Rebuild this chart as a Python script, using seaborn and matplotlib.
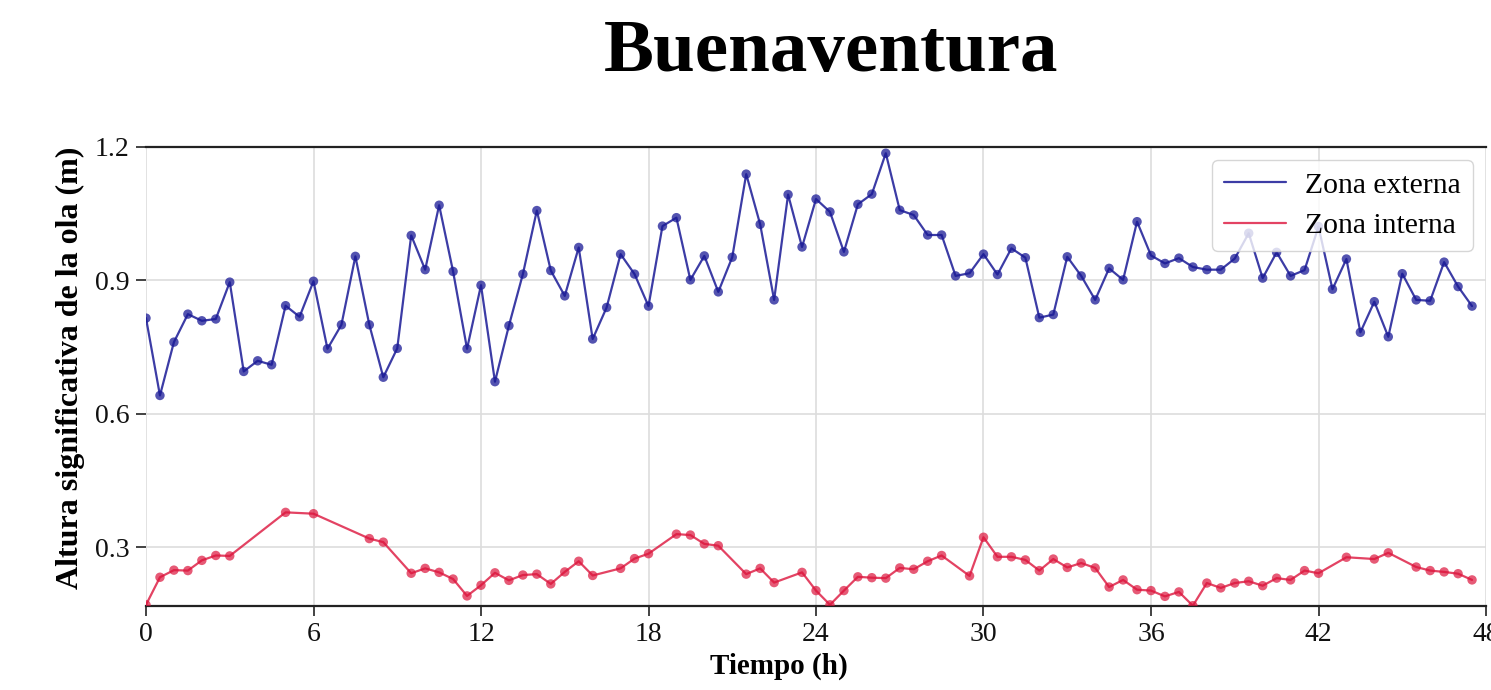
import numpy as np
import pandas as pd
import matplotlib
matplotlib.use("Agg")
import matplotlib.pyplot as plt
import seaborn as sns

# ---- data ----
ext_time = [i * 0.5 for i in range(96)]
ext_height = [
    0.815, 0.641, 0.761, 0.824, 0.809, 0.813, 0.896, 0.695, 0.719, 0.710,
    0.843, 0.818, 0.898, 0.746, 0.800, 0.954, 0.800, 0.682, 0.747, 1.001,
    0.924, 1.069, 0.920, 0.746, 0.889, 0.672, 0.798, 0.914, 1.057, 0.922,
    0.865, 0.974, 0.768, 0.839, 0.959, 0.914, 0.842, 1.022, 1.041, 0.901,
    0.955, 0.874, 0.952, 1.139, 1.026, 0.856, 1.093, 0.975, 1.083, 1.054,
    0.964, 1.071, 1.094, 1.186, 1.058, 1.047, 1.002, 1.002, 0.910, 0.916,
    0.959, 0.913, 0.972, 0.951, 0.816, 0.823, 0.953, 0.910, 0.856, 0.927,
    0.901, 1.032, 0.956, 0.938, 0.950, 0.930, 0.924, 0.924, 0.949, 1.006,
    0.905, 0.963, 0.910, 0.923, 1.021, 0.880, 0.948, 0.783, 0.852, 0.773,
    0.915, 0.856, 0.854, 0.941, 0.886, 0.842,
]

int_time = [
    0, 0.5, 1, 1.5, 2, 2.5, 3, 5, 6, 8, 8.5, 9.5, 10, 10.5, 11, 11.5, 12,
    12.5, 13, 13.5, 14, 14.5, 15, 15.5, 16, 17, 17.5, 18, 19, 19.5, 20, 20.5,
    21.5, 22, 22.5, 23.5, 24, 24.5, 25, 25.5, 26, 26.5, 27, 27.5, 28, 28.5,
    29.5, 30, 30.5, 31, 31.5, 32, 32.5, 33, 33.5, 34, 34.5, 35, 35.5, 36,
    36.5, 37, 37.5, 38, 38.5, 39, 39.5, 40, 40.5, 41, 41.5, 42, 43, 44, 44.5,
    45.5, 46, 46.5, 47, 47.5,
]
int_height = [
    0.170, 0.232, 0.248, 0.247, 0.270, 0.281, 0.280, 0.378, 0.375, 0.319,
    0.311, 0.241, 0.252, 0.243, 0.228, 0.190, 0.214, 0.242, 0.225, 0.237,
    0.239, 0.217, 0.244, 0.268, 0.236, 0.252, 0.274, 0.285, 0.329, 0.327,
    0.307, 0.303, 0.239, 0.252, 0.220, 0.243, 0.202, 0.170, 0.202, 0.233,
    0.231, 0.230, 0.253, 0.250, 0.268, 0.281, 0.235, 0.322, 0.278, 0.278,
    0.271, 0.247, 0.273, 0.254, 0.264, 0.253, 0.210, 0.226, 0.204, 0.202,
    0.189, 0.199, 0.168, 0.219, 0.208, 0.219, 0.223, 0.213, 0.230, 0.226,
    0.247, 0.241, 0.277, 0.273, 0.287, 0.255, 0.247, 0.244, 0.240, 0.226,
]

series_labels = ["Zona externa", "Zona interna"]
x_ticks = [0, 6, 12, 18, 24, 30, 36, 42, 48]
y_ticks = [0.3, 0.6, 0.9, 1.2]

ext_color = "#1a1a96"
int_color = "#dc143c"

# ---- style ----
sns.set_theme(style="whitegrid")
plt.rcParams["font.family"] = ["Liberation Serif", "DejaVu Serif"]
plt.rcParams["text.color"] = "black"
plt.rcParams["axes.labelcolor"] = "black"

fig = plt.figure(figsize=(14.91, 6.90), dpi=100)
ax = fig.add_axes([146 / 1491, 1 - 605.7 / 690, (1486 - 146) / 1491, (605.7 - 147) / 690])

df_ext = pd.DataFrame({"t": ext_time, "h": ext_height})
df_int = pd.DataFrame({"t": int_time, "h": int_height})

sns.lineplot(data=df_ext, x="t", y="h", ax=ax, color=ext_color, alpha=0.85,
             linewidth=1.6, label=series_labels[0])
sns.lineplot(data=df_int, x="t", y="h", ax=ax, color=int_color, alpha=0.8,
             linewidth=1.6, label=series_labels[1])
sns.scatterplot(data=df_ext, x="t", y="h", ax=ax, color=ext_color, alpha=0.75,
                s=46, edgecolor="none", legend=False, zorder=3)
sns.scatterplot(data=df_int, x="t", y="h", ax=ax, color=int_color, alpha=0.7,
                s=46, edgecolor="none", legend=False, zorder=3)

ax.set_xlim(0, 48)
ax.set_ylim(0.168, 1.2)
ax.set_xticks(x_ticks)
ax.set_yticks(y_ticks)
ax.set_xticklabels([str(v) for v in x_ticks])
ax.set_yticklabels([f"{v:.1f}" for v in y_ticks])

ax.grid(True, color="#dddddd", linewidth=1.2)
ax.set_facecolor("white")
for side in ["left", "right"]:
    ax.spines[side].set_visible(False)
for side in ["top", "bottom"]:
    ax.spines[side].set_visible(True)
    ax.spines[side].set_color("#222222")
    ax.spines[side].set_linewidth(1.6)

ax.tick_params(axis="both", which="major", labelsize=20, length=7, width=1.2,
               color="#222222", direction="out", pad=5, labelcolor="#111111")
ax.tick_params(axis="x", bottom=True)
ax.tick_params(axis="y", left=True)

ax.set_xlabel("")
ax.set_ylabel("")
fig.text(779 / 1491, 1 - 666 / 690, "Tiempo (h)", ha="center", va="center",
         fontsize=21, fontweight="bold", color="black")
fig.text(70 / 1491, 1 - 368 / 690, "Altura significativa de la ola (m)",
         ha="center", va="center", rotation=90, fontsize=23, fontweight="bold",
         color="black")
fig.text(831 / 1491, 1 - 53 / 690, "Buenaventura", ha="center", va="center",
         fontsize=54, fontweight="bold", color="black")

leg = ax.legend(loc="upper right", fontsize=21.3, frameon=True, framealpha=0.8,
                edgecolor="#cccccc", fancybox=True, borderaxespad=0.45,
                handlelength=2.1, handletextpad=0.65, labelspacing=0.45,
                borderpad=0.4)
for text in leg.get_texts():
    text.set_color("black")
for line in leg.get_lines():
    line.set_linewidth(1.6)

fig.savefig("out.png", dpi=100, facecolor="white")
